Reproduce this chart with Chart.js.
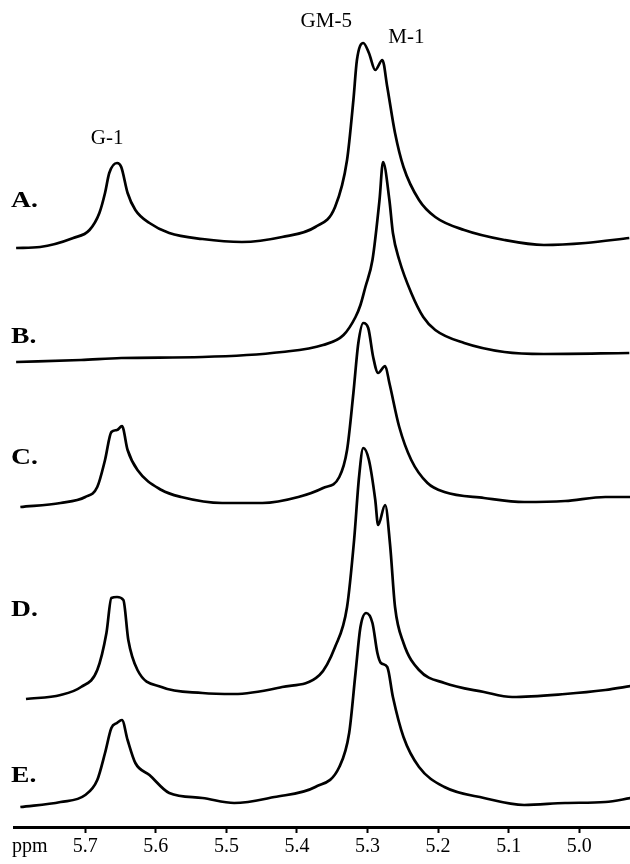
<!DOCTYPE html>
<html>
<head>
<meta charset="utf-8">
<script src="https://cdn.jsdelivr.net/npm/chart.js@4/dist/chart.umd.min.js"></script>
<style>
html,body{margin:0;padding:0;background:#fff;}
#wrap{width:630px;height:864px;}
</style>
</head>
<body>
<div id="wrap"><canvas id="c" width="630" height="864"></canvas></div>
<script>
// chemical shift (ppm) and stacked trace height for each spectrum
const ppmA = [5.798,5.764,5.717,5.694,5.680,5.672,5.666,5.655,5.649,5.640,5.629,5.609,5.581,5.534,5.478,5.421,5.374,5.346,5.329,5.320,5.315,5.306,5.298,5.289,5.279,5.272,5.261,5.249,5.227,5.204,5.163,5.106,5.050,4.991,4.929];
const hA   = [579,580,589,597,614,634,654,664,660,634,617,604,594,588,585,590,600,620,667,727,767,784,774,757,767,740,694,660,627,610,597,587,582,584,589];

const ppmB = [5.798,5.706,5.649,5.534,5.421,5.363,5.334,5.317,5.310,5.303,5.293,5.283,5.278,5.269,5.264,5.255,5.238,5.221,5.204,5.163,5.106,5.050,4.929];
const hB   = [465,467,469,470,475,482,492,510,522,540,567,627,665,627,594,567,534,510,497,484,475,473,474];

const ppmC = [5.792,5.735,5.700,5.683,5.672,5.663,5.655,5.648,5.640,5.626,5.592,5.564,5.506,5.449,5.398,5.363,5.340,5.329,5.320,5.313,5.306,5.299,5.292,5.285,5.275,5.269,5.255,5.238,5.215,5.191,5.135,5.078,5.020,4.963,4.926];
const hC   = [320,324,330,340,367,395,397,401,377,357,337,330,324,324,330,339,350,377,434,484,504,499,470,454,461,444,400,367,344,335,329,325,326,330,330];

const ppmD = [5.784,5.735,5.706,5.683,5.670,5.663,5.655,5.646,5.639,5.626,5.592,5.534,5.489,5.421,5.368,5.346,5.329,5.319,5.312,5.306,5.298,5.289,5.285,5.275,5.268,5.261,5.249,5.227,5.191,5.135,5.095,5.020,4.963,4.926];
const hD   = [128,132,140,157,194,229,230,227,187,157,140,134,133,140,152,180,220,287,350,379,367,327,302,322,282,220,184,157,144,135,130,133,137,141];

const ppmE = [5.792,5.735,5.700,5.683,5.672,5.663,5.655,5.648,5.640,5.629,5.609,5.581,5.534,5.489,5.432,5.374,5.340,5.326,5.317,5.310,5.302,5.293,5.286,5.281,5.272,5.264,5.249,5.227,5.191,5.135,5.078,5.020,4.963,4.926];
const hE   = [20,25,32,47,74,99,104,107,87,64,52,34,29,24,30,40,60,94,154,200,214,204,174,164,160,130,90,60,40,29,22,24,25,29];

const traceNames = ['A.','B.','C.','D.','E.'];
const tickValues = [5.7,5.6,5.5,5.4,5.3,5.2,5.1,5.0];
const peakNames = ['G-1','GM-5','M-1'];

function pts(xs, ys){ return xs.map((x,i)=>({x:x, y:ys[i]})); }
const series = [[ppmA,hA],[ppmB,hB],[ppmC,hC],[ppmD,hD],[ppmE,hE]];

const labelPlugin = {
  id:'labels',
  afterDraw(chart){
    const ctx = chart.ctx;
    const xs = chart.scales.x, ys = chart.scales.y;
    ctx.save();
    ctx.fillStyle = '#000';
    // trace letters
    ctx.font = 'bold 23px "Liberation Serif", "Times New Roman", serif';
    ctx.textBaseline = 'middle';
    ctx.textAlign = 'left';
    const letterH = [626, 490, 369, 217, 51];
    traceNames.forEach((t,i)=>{
      ctx.save();
      ctx.translate(11, ys.getPixelForValue(letterH[i]));
      ctx.scale(1.2, 1);
      ctx.fillText(t, 0, 0);
      ctx.restore();
    });
    // peak labels
    ctx.font = '21px "Liberation Serif", "Times New Roman", serif';
    ctx.textAlign = 'center';
    const peakPos = [[5.669,689],[5.3585,806],[5.245,790]];
    peakNames.forEach((t,i)=>{ ctx.fillText(t, xs.getPixelForValue(peakPos[i][0]), ys.getPixelForValue(peakPos[i][1])); });
    // ppm unit
    ctx.font = '20px "Liberation Serif", "Times New Roman", serif';
    ctx.textAlign = 'left';
    ctx.fillText('ppm', 12, 847);
    ctx.restore();
  }
};

new Chart(document.getElementById('c'), {
  type:'line',
  data:{
    datasets: series.map((s,i)=>({
      label: traceNames[i],
      data: pts(s[0], s[1]),
      borderColor:'#000',
      borderWidth:2.7,
      pointRadius:0,
      fill:false,
      cubicInterpolationMode:'monotone'
    }))
  },
  options:{
    responsive:false,
    animation:false,
    devicePixelRatio:1,
    layout:{padding:{left:14,right:0,top:0,bottom:0}},
    plugins:{legend:{display:false},tooltip:{enabled:false}},
    scales:{
      x:{
        type:'linear',
        reverse:true,
        min:4.928, max:5.801,
        afterBuildTicks:(sc)=>{ sc.ticks = tickValues.map(v=>({value:v})); },
        afterFit:(sc)=>{ sc.height = 37; },
        border:{display:true,color:'#000',width:3},
        grid:{drawOnChartArea:false,drawTicks:true,tickLength:6,tickWidth:2,color:'#000'},
        ticks:{
          color:'#000',
          padding:2,
          maxRotation:0,
          autoSkip:false,
          font:{family:'"Liberation Serif", "Times New Roman", serif',size:20},
          callback:(v)=>Number(v).toFixed(1)
        }
      },
      y:{display:false,min:0,max:827}
    }
  },
  plugins:[labelPlugin]
});
</script>
</body>
</html>
